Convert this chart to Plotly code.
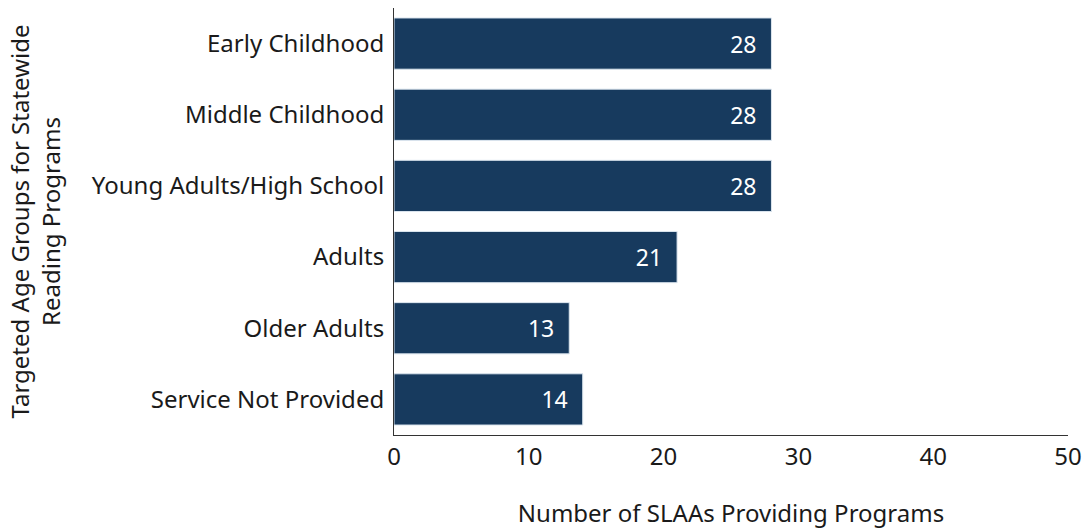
import plotly.graph_objects as go

categories = ["Early Childhood", "Middle Childhood", "Young Adults/High School",
              "Adults", "Older Adults", "Service Not Provided"]
values = [28, 28, 28, 21, 13, 14]
x_ticks = [0, 10, 20, 30, 40, 50]

FONT = "Noto Sans"
fig = go.Figure(go.Bar(
    y=categories, x=values, orientation="h",
    marker=dict(color="#173A5E", line=dict(color="#dce6ef", width=1)),
    text=[str(v) + "\u00a0\u00a0" for v in values], textposition="inside",
    insidetextanchor="end",
    textfont=dict(color="white", size=23, family=FONT),
    width=0.72,
))
fig.update_layout(
    width=1087, height=529,
    margin=dict(l=394, r=19, t=8, b=94, autoexpand=False),
    plot_bgcolor="white", paper_bgcolor="white",
    font=dict(family=FONT, size=24, color="#1a1a1a"),
    showlegend=False,
    xaxis=dict(range=[0, 50], tickvals=x_ticks, showgrid=False, zeroline=False,
               showline=True, linecolor="#333", linewidth=1, automargin=False,
               ticks="", ticklen=0,
               title=dict(text="Number of SLAAs Providing Programs", standoff=36,
                          font=dict(size=24))),
    yaxis=dict(autorange="reversed", showgrid=False, zeroline=False,
               showline=True, linecolor="#333", linewidth=1, ticks="",
               ticklabelstandoff=4, automargin=False,
               title=dict(text="Targeted Age Groups for Statewide<br>Reading Programs",
                          standoff=24, font=dict(size=24))),
)
fig.write_html("out.html")
